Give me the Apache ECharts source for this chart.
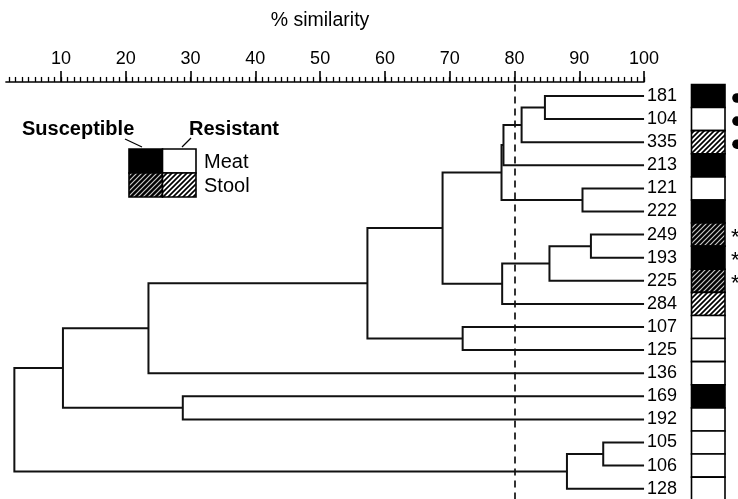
<!DOCTYPE html>
<html><head><meta charset="utf-8">
<script src="https://cdn.jsdelivr.net/npm/echarts@6/dist/echarts.min.js"></script>
<style>html,body{margin:0;padding:0;background:#fff}#c{width:738px;height:499px}</style>
</head><body><div id="c"></div>
<script>
// ---- data ----
const leaves = ['181','104','335','213','121','222','249','193','225','284','107','125','136','169','192','105','106','128'];
// merges: node id of merge k = leaves.length + k
const mergeA = [0, 18, 19, 4, 20, 6, 23, 24, 22, 10, 26, 28, 13, 29, 15, 32, 31];
const mergeB = [1, 2, 3, 5, 21, 7, 8, 9, 25, 11, 27, 12, 14, 30, 16, 17, 33];
const mergeLevel = [84.7, 81.1, 78.3, 90.5, 78.0, 91.8, 85.4, 78.1, 68.9, 72.0, 57.3, 23.5, 28.8, 10.3, 93.7, 88.1, 2.8];
// SM = susceptible meat, RM = resistant meat, SS = susceptible stool, RS = resistant stool
const boxType = ['SM','RM','RS','SM','RM','SM','SS','SM','SS','RS','RM','RM','RM','SM','RM','RM','RM','RM'];
const marker = ['dot','dot','dot','','','','star','star','star','','','','','','','','',''];
const tickValues = [10,20,30,40,50,60,70,80,90,100];
const minorTicks = [];
for (let v = 2; v <= 100; v++) minorTicks.push(v);
const cutoff = 80;
const leafLevel = 100;

// ---- derived node positions ----
const n = leaves.length;
const nodeX = [], nodeY = [];
for (let i = 0; i < n; i++) { nodeX[i] = leafLevel; nodeY[i] = i; }
const linkData = [];
for (let k = 0; k < mergeA.length; k++) {
  const a = mergeA[k], b = mergeB[k];
  nodeX[n + k] = mergeLevel[k];
  nodeY[n + k] = (nodeY[a] + nodeY[b]) / 2;
  linkData.push([mergeLevel[k], nodeY[n + k], nodeX[a], nodeY[a], nodeX[b], nodeY[b]]);
}

function makeHatch(bg, fg, lw) {
  const s = 5;
  const c = document.createElement('canvas');
  c.width = s; c.height = s;
  const g = c.getContext('2d');
  g.fillStyle = bg; g.fillRect(0, 0, s, s);
  g.strokeStyle = fg; g.lineWidth = lw; g.lineCap = 'square';
  g.beginPath();
  g.moveTo(0, s); g.lineTo(s, 0);
  g.moveTo(-1, 1); g.lineTo(1, -1);
  g.moveTo(s - 1, s + 1); g.lineTo(s + 1, s - 1);
  g.stroke();
  return { image: c, repeat: 'repeat' };
}
const lightHatch = makeHatch('#fff', '#000', 1.7);
const darkHatch = makeHatch('#000', '#c8c8c8', 1.2);
const fills = { SM: '#000', RM: '#fff', SS: darkHatch, RS: lightHatch };

const FONT = '"Liberation Sans", Arial, Helvetica, sans-serif';
const gridTop = 84.45, gridH = 415.8;
const axisLeft = 5.94, axisW = 638.1;

const chart = echarts.init(document.getElementById('c'), null, { renderer: 'canvas' });
chart.setOption({
  animation: false,
  backgroundColor: '#fff',
  grid: [
    { left: axisLeft, top: gridTop, width: axisW, height: gridH, outerBoundsMode: 'none', containLabel: false },
    { left: 691.5, top: gridTop, width: 33.5, height: gridH, outerBoundsMode: 'none', containLabel: false }
  ],
  xAxis: [
    { type: 'value', gridIndex: 0, position: 'top', min: 1.5, max: 100, offset: 2.5,
      axisLine: { show: true, onZero: false, lineStyle: { color: '#000', width: 1.6 } },
      axisTick: { show: true, customValues: tickValues, length: 11, lineStyle: { color: '#000', width: 1.6 } },
      axisLabel: { show: true, customValues: tickValues, fontSize: 18, color: '#000', margin: 14, fontFamily: FONT },
      splitLine: { show: false } },
    { type: 'value', gridIndex: 0, position: 'top', min: 1.5, max: 100, offset: 2.5,
      axisLine: { show: false, onZero: false },
      axisTick: { show: true, customValues: minorTicks, length: 5, lineStyle: { color: '#000', width: 1.3 } },
      axisLabel: { show: false }, splitLine: { show: false } },
    { type: 'value', gridIndex: 1, min: 0, max: 1, show: false }
  ],
  yAxis: [
    { type: 'category', gridIndex: 0, data: leaves, inverse: true, position: 'right',
      axisLine: { show: false }, axisTick: { show: false }, splitLine: { show: false },
      axisLabel: { interval: 0, fontSize: 18, color: '#000', margin: 3, fontFamily: FONT } },
    { type: 'value', gridIndex: 0, min: -0.5, max: n - 0.5, inverse: true, show: false },
    { type: 'category', gridIndex: 1, data: leaves, inverse: true, show: false }
  ],
  graphic: [
    { type: 'text', x: 320, y: 21, style: { text: '% similarity', fill: '#000', font: '19.5px ' + FONT, textAlign: 'center', textVerticalAlign: 'middle', align: 'center', verticalAlign: 'middle' } },
    { type: 'text', x: 22, y: 129, style: { text: 'Susceptible', fill: '#000', font: 'bold 20px ' + FONT, textAlign: 'left', textVerticalAlign: 'middle', align: 'left', verticalAlign: 'middle' } },
    { type: 'text', x: 189, y: 129, style: { text: 'Resistant', fill: '#000', font: 'bold 20px ' + FONT, textAlign: 'left', textVerticalAlign: 'middle', align: 'left', verticalAlign: 'middle' } },
    { type: 'line', shape: { x1: 125, y1: 139, x2: 142, y2: 147 }, style: { stroke: '#000', lineWidth: 1.3 } },
    { type: 'line', shape: { x1: 191, y1: 138, x2: 182, y2: 147 }, style: { stroke: '#000', lineWidth: 1.3 } },
    { type: 'rect', shape: { x: 129, y: 149, width: 33.5, height: 24 }, style: { fill: fills.SM, stroke: '#000', lineWidth: 1.6 } },
    { type: 'rect', shape: { x: 162.5, y: 149, width: 33.5, height: 24 }, style: { fill: fills.RM, stroke: '#000', lineWidth: 1.6 } },
    { type: 'rect', shape: { x: 129, y: 173, width: 33.5, height: 24 }, style: { fill: fills.SS, stroke: '#000', lineWidth: 1.6 } },
    { type: 'rect', shape: { x: 162.5, y: 173, width: 33.5, height: 24 }, style: { fill: fills.RS, stroke: '#000', lineWidth: 1.6 } },
    { type: 'text', x: 204, y: 162, style: { text: 'Meat', fill: '#000', font: '20px ' + FONT, textAlign: 'left', textVerticalAlign: 'middle', align: 'left', verticalAlign: 'middle' } },
    { type: 'text', x: 204, y: 186, style: { text: 'Stool', fill: '#000', font: '20px ' + FONT, textAlign: 'left', textVerticalAlign: 'middle', align: 'left', verticalAlign: 'middle' } }
  ],
  series: [
    { type: 'custom', xAxisIndex: 0, yAxisIndex: 1, data: linkData, encode: { x: 0, y: 1 },
      renderItem: function (params, api) {
        const lv = api.value(0);
        const p1 = api.coord([api.value(2), api.value(3)]);
        const p2 = api.coord([lv, api.value(3)]);
        const p3 = api.coord([lv, api.value(5)]);
        const p4 = api.coord([api.value(4), api.value(5)]);
        return { type: 'polyline', shape: { points: [p1, p2, p3, p4] },
          style: { stroke: '#111', lineWidth: 2, fill: null, lineJoin: 'miter' } };
      } },
    { type: 'line', xAxisIndex: 0, yAxisIndex: 1, data: [], silent: true,
      markLine: { silent: true, symbol: ['none', 'none'], label: { show: false },
        lineStyle: { color: '#111', width: 1.7, type: [7, 5] },
        data: [{ xAxis: cutoff }] } },
    { type: 'custom', xAxisIndex: 2, yAxisIndex: 2, data: leaves.map((l, i) => [0, i]),
      renderItem: function (params, api) {
        const i = params.dataIndex;
        const c = api.coord([0, i]);
        const sz = api.size([1, 1]);
        const x = c[0], w = sz[0], h = sz[1], y = c[1] - h / 2;
        const children = [
          { type: 'rect', shape: { x: x, y: y, width: w, height: h },
            style: { fill: fills[boxType[i]], stroke: '#000', lineWidth: 1.6 } }
        ];
        if (marker[i] === 'dot') {
          children.push({ type: 'circle', shape: { cx: x + w + 12, cy: c[1] + 2, r: 4.8 }, style: { fill: '#000' } });
        } else if (marker[i] === 'star') {
          children.push({ type: 'text', x: x + w + 6, y: c[1] + 3,
            style: { text: '*', fill: '#000', font: '22px ' + FONT, textAlign: 'left', textVerticalAlign: 'middle', align: 'left', verticalAlign: 'middle' } });
        }
        return { type: 'group', children: children };
      } }
  ]
});
</script>
</body></html>
